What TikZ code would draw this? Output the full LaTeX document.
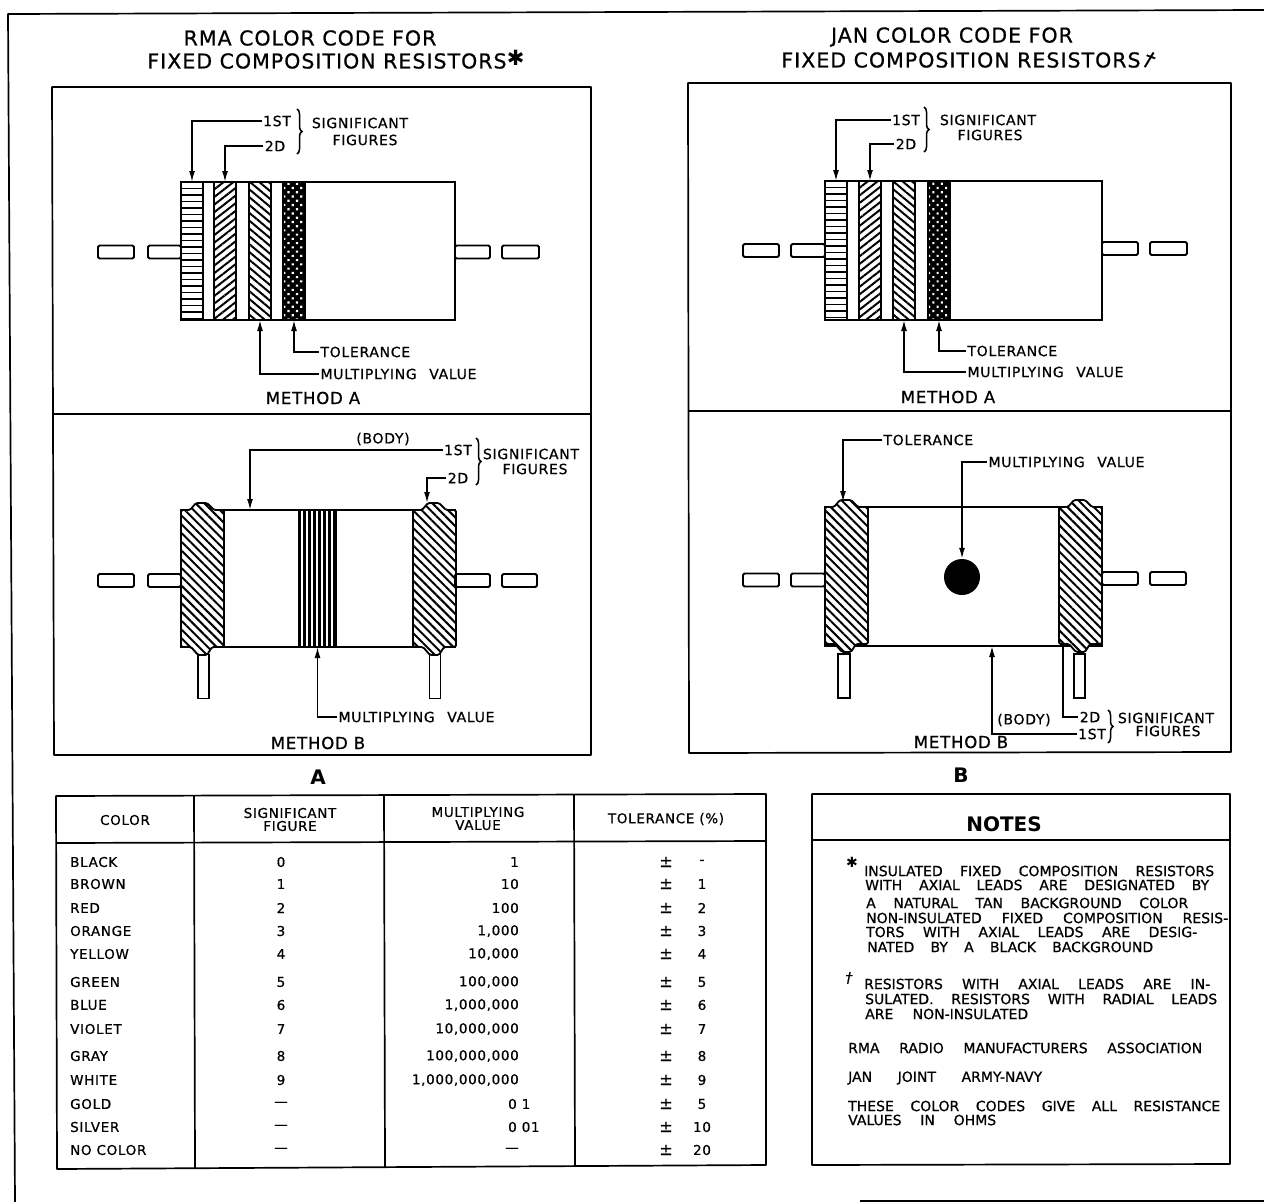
\documentclass[tikz,border=0pt]{standalone}
\usepackage{fontspec}
\setmainfont{DejaVu Sans}
\newfontfamily\widefont[LetterSpace=5,FakeBold=0.7]{DejaVu Sans}
\newfontfamily\notefont[FakeBold=0.8]{DejaVu Sans}
\usetikzlibrary{arrows.meta,positioning,patterns.meta,decorations.pathreplacing}
\tikzset{
  frm/.style={line width=1.7pt, line join=round},
  ldr/.style={line width=1.5pt},
  arr/.style={ldr, -{Latex[length=11pt,width=6pt]}},
  brc/.style={line width=1.5pt, decorate, decoration={brace,amplitude=5pt}},
  lbl/.style={inner sep=1.5pt, outer sep=0pt, font=\widefont\fontsize{14}{14}\selectfont},
  ttl/.style={inner sep=0pt, font=\widefont\fontsize{20.5}{20.5}\selectfont},
  mth/.style={inner sep=0pt, font=\widefont\fontsize{16.5}{16.5}\selectfont},
  cel/.style={inner sep=0pt, align=center, font=\widefont\fontsize{13.5}{13}\selectfont},
  big/.style={inner sep=0pt, font=\bfseries\fontsize{20}{20}\selectfont},
  nte/.style={inner sep=0pt, anchor=west, font=\notefont\fontsize{14}{14}\selectfont},
  bodybox/.style={draw, line width=1.9pt, fill=white, inner sep=0pt, outer sep=0pt, minimum width=274pt, minimum height=138pt},
  leadbox/.style={draw, line width=1.8pt, rounded corners=1.5pt, inner sep=0pt, outer sep=0pt, minimum height=13pt, minimum width=#1},
  leadbox/.default=36pt,
  pinbox/.style={draw, line width=1.7pt, inner sep=0pt, minimum width=#1, minimum height=44pt},
  bandbox/.style={draw, line width=1.8pt, inner sep=0pt, outer sep=0pt, minimum height=138pt, minimum width=22pt},
  hband/.style={bandbox, path picture={\foreach \k in {1,...,21} \draw[line width=1.8pt] ([yshift=-\k*6.5pt]path picture bounding box.north west) -- ++(30,0);}},
  fband/.style={bandbox, pattern={Lines[angle=38,distance=6pt,line width=2pt]}},
  bband/.style={bandbox, pattern={Lines[angle=-40,distance=6pt,line width=2pt]}},
  dband/.style={bandbox, preaction={fill=black}, pattern={Dots[distance=6pt,radius=1.5pt,angle=45]}, pattern color=white},
  sband/.style={bandbox, minimum height=137pt, minimum width=37pt, preaction={fill=black}, pattern={Lines[angle=90,distance=5pt,line width=1.3pt,xshift=2pt]}, pattern color=white},
  capstyle/.style={draw, line width=1.8pt, line join=round, rounded corners=1.5pt, fill=white, postaction={pattern={Lines[angle=-45,distance=6.2pt,line width=2pt]}}}
}
\newcommand{\hatchcap}[2]{\path[capstyle, shift={(#1,#2)}] (0,0) -- (9,0) -- (15,-7) -- (26,-7) -- (33,0) -- (43,0) -- (43,137) -- (31,137) -- (26,145) -- (17,145) -- (10,137) -- (0,137) -- cycle;}
\newcommand{\mulval}{\makebox[156pt][s]{MULTIPLYING VALUE}}

\begin{document}
\begin{tikzpicture}[x=1pt,y=-1pt]
\useasboundingbox (0,0) rectangle (1264,1202);
% outer sheet
\draw[frm] (15,1202) -- (8,14) -- (1264,10);
\draw[frm] (860,1201) -- (1264,1201);

% titles
\node[ttl] (tA1) at (310,38) {RMA COLOR CODE FOR};
\node[ttl] (tA2) at (327,61) {FIXED COMPOSITION RESISTORS};
\node[inner sep=0pt, font=\fontsize{21}{21}\selectfont, right=0pt of tA2, yshift=3pt] (sA) {✱};
\node[ttl] (tB1) at (952,37) {JAN COLOR CODE FOR};
\node[ttl] (tB2) at (961,60) {FIXED COMPOSITION RESISTORS};
\node[inner sep=0pt, font=\notefont\fontsize{20}{20}\selectfont\itshape, rotate=-20, right=3pt of tB2, yshift=2pt] (sB) {†};

% panel frames
\draw[frm] (52,87) -- (591,87) -- (591,755) -- (54,755) -- cycle;
\draw[frm] (52,414) -- (591,414);
\draw[frm] (688,83) -- (1231,83) -- (1231,752) -- (689,753) -- cycle;
\draw[frm] (688,411) -- (1231,411);

% left, method A
\node[bodybox] (bA) at (318,251) {};
\node[hband, right=0pt of bA.west] (a1) {};
\node[fband, right=11pt of a1] (a2) {};
\node[bband, right=13pt of a2] (a3) {};
\node[dband, right=12pt of a3] (a4) {};
\node[leadbox=33pt, left=0pt of bA, yshift=-1pt] (la1) {};
\node[leadbox, left=14pt of la1] (la2) {};
\node[leadbox=35pt, right=0pt of bA, yshift=-1pt] (ra1) {};
\node[leadbox=37pt, right=12pt of ra1] (ra2) {};
\node[lbl] (a1st) at (277,121) {1ST};
\node[lbl] (a2d) at (275,146) {2D};
\draw[brc] (297,109) -- (297,154);
\node[lbl] (asig) at (360,123) {SIGNIFICANT};
\node[lbl] (afig) at (365,140) {FIGURES};
\node[lbl, anchor=west] (atol) at (319,352) {TOLERANCE};
\node[lbl, anchor=west] (amul) at (319,374) {\mulval};
\node[mth] (amth) at (313,398) {METHOD A};
\draw[arr] (a1st.west) -| (a1.north);
\draw[arr] (a2d.west) -| (a2.north);
\draw[arr] (atol.west) -| (a4.south);
\draw[arr] (amul.west) -| (a3.south);

% left, method B
\node[bodybox, minimum height=137pt] (bB) at (318,578.5) {};
\node[sband] (bcen) at (317.5,578.5) {};
\hatchcap{181}{510}
\hatchcap{413}{510}
\coordinate (bcap) at (427,503);
\coordinate (bbtop) at (250,510);
\node[leadbox=33pt, left=0pt of bB, yshift=-2pt] (lb1) {};
\node[leadbox, left=14pt of lb1] (lb2) {};
\node[leadbox=35pt, right=0pt of bB, yshift=-2pt] (rb1) {};
\node[leadbox=35pt, right=12pt of rb1] (rb2) {};
\node[pinbox=11pt] (vb1) at (203.5,676.5) {};
\node[pinbox=11pt] (vb2) at (435,676.5) {};
\node[lbl] (bbod) at (383,439) {(BODY)};
\node[lbl] (b1st) at (458,450) {1ST};
\node[lbl] (b2d) at (458,478) {2D};
\draw[brc] (476,438) -- (476,485);
\node[lbl] (bsig) at (531,454) {SIGNIFICANT};
\node[lbl] (bfig) at (535,469) {FIGURES};
\node[lbl, anchor=west] (bmul) at (337,717) {\mulval};
\node[mth] (bmth) at (318,743) {METHOD B};
\draw[arr] (b1st.west) -| (bbtop);
\draw[arr] (b2d.west) -| (bcap);
\draw[arr] (bmul.west) -| (bcen.south);

% right, method A
\node[bodybox, minimum width=277pt, minimum height=139pt] (cA) at (963.5,250.5) {};
\node[hband, minimum height=139pt, right=0pt of cA.west] (c1) {};
\node[fband, minimum height=139pt, right=12pt of c1] (c2) {};
\node[bband, minimum height=139pt, right=12pt of c2] (c3) {};
\node[dband, minimum height=139pt, right=13pt of c3] (c4) {};
\node[leadbox=34pt, left=0pt of cA] (lc1) {};
\node[leadbox, left=12pt of lc1] (lc2) {};
\node[leadbox, right=0pt of cA, yshift=2pt] (rc1) {};
\node[leadbox=37pt, right=12pt of rc1] (rc2) {};
\node[lbl] (c1st) at (906,120) {1ST};
\node[lbl] (c2d) at (906,144) {2D};
\draw[brc] (924,107) -- (924,152);
\node[lbl] (csig) at (988,120) {SIGNIFICANT};
\node[lbl] (cfig) at (990,135) {FIGURES};
\node[lbl, anchor=west] (ctol) at (966,351) {TOLERANCE};
\node[lbl, anchor=west] (cmul) at (966,372) {\mulval};
\node[mth] (cmth) at (948,397) {METHOD A};
\draw[arr] (c1st.west) -| (c1.north);
\draw[arr] (c2d.west) -| (c2.north);
\draw[arr] (ctol.west) -| (c4.south);
\draw[arr] (cmul.west) -| (c3.south);

% right, method B
\node[bodybox, minimum width=277pt, minimum height=139pt] (dB) at (963.5,576.5) {};
\hatchcap{825}{507}
\hatchcap{1059}{507}
\node[circle, fill=black, inner sep=0pt, minimum size=36pt] (dot) at (962,577) {};
\coordinate (dcap) at (843,502);
\coordinate (dbot) at (1063,647);
\coordinate (dbody) at (992,646);
\node[leadbox=34pt, left=0pt of dB, yshift=-3.5pt] (ld1) {};
\node[leadbox, left=12pt of ld1] (ld2) {};
\node[leadbox, right=0pt of dB, yshift=-2pt] (rd1) {};
\node[leadbox, right=12pt of rd1] (rd2) {};
\node[pinbox=12pt] (vd1) at (844,676) {};
\node[pinbox=11pt] (vd2) at (1079.5,676) {};
\node[lbl, anchor=west] (dtol) at (882,440) {TOLERANCE};
\node[lbl, anchor=west] (dmul) at (987,462) {\mulval};
\node[lbl] (dbod) at (1024,720) {(BODY)};
\node[lbl] (d2d) at (1090,717) {2D};
\node[lbl] (d1st) at (1092,734) {1ST};
\draw[brc] (1108,710) -- (1108,743);
\node[lbl] (dsig) at (1166,718) {SIGNIFICANT};
\node[lbl] (dfig) at (1168,731) {FIGURES};
\node[mth] (dmth) at (961,742) {METHOD B};
\draw[arr] (dtol.west) -| (dcap);
\draw[arr] (dmul.west) -| (dot.north);
\draw[arr] (d1st.west) -| (dbody);
\draw[ldr] (d2d.west) -| (dbot);

% panel letters
\node[big] (pA) at (318,777) {A};
\node[big] (pB) at (961,775) {B};

% table
\draw[frm] (56,796) -- (766,794) -- (766,1165) -- (57,1169) -- cycle;
\draw[frm] (56,843) -- (766,841);
\draw[frm] (194,795) -- (195,1168);
\draw[frm] (384,795) -- (385,1167);
\draw[frm] (574,795) -- (575,1166);
\node[cel] (hcol) at (125,820) {COLOR};
\node[cel] (hsig) at (290,819.5) {SIGNIFICANT\\FIGURE};
\node[cel] (hmul) at (478,818.5) {MULTIPLYING\\VALUE};
\node[cel] (htol) at (666,819) {TOLERANCE (\%)};
\foreach \yy/\nm/\sg/\mv/\tl [count=\i] in {
  862/BLACK/0/1/-, 884/BROWN/1/10/1, 908/RED/2/100/2, 931/ORANGE/3/{1,000}/3,
  954/YELLOW/4/{10,000}/4, 982/GREEN/5/{100,000}/5, 1005/BLUE/6/{1,000,000}/6,
  1029/VIOLET/7/{10,000,000}/7, 1056/GRAY/8/{100,000,000}/8, 1080/WHITE/9/{1,000,000,000}/9,
  1104/GOLD/—/{}/5, 1127/SILVER/—/{}/10, 1150/NO COLOR/—/—/20}{
  \node[cel, anchor=west] (rc\i) at (70,\yy) {\nm};
  \node[cel] (rs\i) at (281,\yy) {\sg};
  \node[cel, anchor=east] (rm\i) at (519,\yy) {\mv};
  \node[big, font=\notefont\fontsize{16}{16}\selectfont] (rp\i) at (666,\yy) {±};
  \node[cel] (rt\i) at (702,\yy) {\tl};
}
\node[cel, anchor=west] (rg) at (508,1104) {0 1};
\node[cel, anchor=west] (rv) at (508,1127) {0 01};

% notes
\draw[frm] (812,794) -- (1230,794) -- (1230,1164) -- (812,1165) -- cycle;
\draw[frm] (812,840) -- (1230,840);
\node[big] (nh) at (1004,824) {NOTES};
\node[inner sep=0pt, font=\fontsize{14}{14}\selectfont] (ns) at (852,862) {✱};
\node[inner sep=0pt, font=\notefont\fontsize{14}{14}\selectfont\itshape] (nd) at (849,978) {†};
\foreach \xx/\yy/\ww/\txt [count=\i] in {
  864/871/350/INSULATED FIXED COMPOSITION RESISTORS,
  865/885/344/WITH AXIAL LEADS ARE DESIGNATED BY,
  866/903/322/A NATURAL TAN BACKGROUND COLOR,
  866/918/362/NON-INSULATED FIXED COMPOSITION RESIS-,
  866/932/331/TORS WITH AXIAL LEADS ARE DESIG-,
  867/947/286/NATED BY A BLACK BACKGROUND,
  864/984/346/RESISTORS WITH AXIAL LEADS ARE IN-,
  865/999/352/SULATED. RESISTORS WITH RADIAL LEADS,
  865/1014/163/ARE NON-INSULATED,
  848/1048/354/RMA RADIO MANUFACTURERS ASSOCIATION,
  848/1078/194/JAN JOINT ARMY-NAVY,
  848/1106/372/THESE COLOR CODES GIVE ALL RESISTANCE,
  848/1120/148/VALUES IN OHMS}{
  \node[nte] (nl\i) at (\xx,\yy) {\makebox[\ww pt][s]{\txt}};
}
\end{tikzpicture}
\end{document}
